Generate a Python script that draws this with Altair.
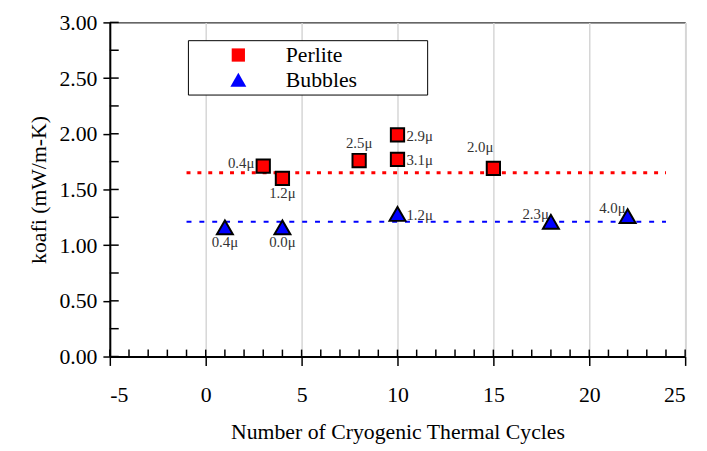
import altair as alt
import pandas as pd

# ---- data ----
series_names = ["Perlite", "Bubbles"]
perlite_cycles = [3, 4, 8, 10, 10, 15]
perlite_k = [1.71, 1.60, 1.76, 1.99, 1.77, 1.69]
perlite_labels = ["0.4μ", "1.2μ", "2.5μ", "2.9μ", "3.1μ", "2.0μ"]
bubbles_cycles = [1, 4, 10, 18, 22]
bubbles_k = [1.16, 1.16, 1.28, 1.21, 1.26]
bubbles_labels = ["0.4μ", "0.0μ", "1.2μ", "2.3μ", "4.0μ"]
mean_k = [1.65, 1.21]
mean_start = [-1, -1]
mean_end = [24, 24]
x_ticks = [-5, 0, 5, 10, 15, 20, 25]
y_ticks = [0, 0.5, 1.0, 1.5, 2.0, 2.5, 3.0]
x_minor = list(range(-5, 26))
y_minor = [i * 0.25 for i in range(13)]

# which side of its marker each note sits on
perlite_place = ["left", "below", "above", "right", "right", "aboveleft"]
bubbles_place = ["below", "below", "right", "upleft", "upleft"]

points = pd.DataFrame({
    "series": ["Perlite"] * len(perlite_cycles) + ["Bubbles"] * len(bubbles_cycles),
    "cycles": perlite_cycles + bubbles_cycles,
    "k": perlite_k + bubbles_k,
    "label": perlite_labels + bubbles_labels,
    "place": perlite_place + bubbles_place,
})
means = pd.DataFrame({"series": series_names, "k": mean_k, "cycles": mean_start, "cycles_end": mean_end})
xt = pd.DataFrame({"cycles": x_minor})
yt = pd.DataFrame({"k": y_minor})

FONT = "Liberation Serif"
xscale = alt.Scale(domain=[-5, 25], nice=False, zero=False)
yscale = alt.Scale(domain=[0, 3], nice=False, zero=False)

x_axis = alt.Axis(values=x_ticks, labelExpr="'' + datum.value", tickSize=9, tickWidth=1.5,
                  tickColor="black", domainColor="black", domainWidth=2, labelFontSize=22,
                  labelColor="black", labelFont=FONT, labelPadding=19, titleFont=FONT,
                  titleFontSize=22, titleFontWeight="normal", titleColor="black", titlePadding=17,
                  grid=True, gridColor="#d6d6d6", gridWidth=1.5)
y_axis = alt.Axis(values=y_ticks, format=".2f", tickSize=7, tickWidth=1.5, tickColor="black",
                  domainColor="black", domainWidth=2, labelFontSize=22, labelColor="black",
                  labelFont=FONT, labelPadding=6, titleFont=FONT, titleFontSize=22,
                  titleFontWeight="normal", titleColor="black", titlePadding=9, grid=False)

X = alt.X("cycles:Q", scale=xscale, axis=x_axis, title="Number of Cryogenic Thermal Cycles")
Y = alt.Y("k:Q", scale=yscale, axis=y_axis, title="koafi (mW/m-K)")

# inward tick marks (minor + major)
x_inner = alt.Chart(xt).mark_rule(color="black", strokeWidth=1.5).encode(
    x=X, y=alt.value(338), y2=alt.value(331))
y_inner = alt.Chart(yt).mark_rule(color="black", strokeWidth=1.5).encode(
    y=Y, x=alt.value(0), x2=alt.value(9))

# mean lines
red_line = alt.Chart(means).transform_filter(alt.datum.series == "Perlite").mark_rule(
    color="#ff0000", strokeWidth=3, strokeDash=[4, 7]).encode(x=X, x2="cycles_end:Q", y=Y)
blue_line = alt.Chart(means).transform_filter(alt.datum.series == "Bubbles").mark_rule(
    color="#0000ff", strokeWidth=2, strokeDash=[5, 8]).encode(x=X, x2="cycles_end:Q", y=Y)

# point notes
placements = {
    "left": dict(align="right", dx=-9, dy=-3),
    "right": dict(align="left", dx=9, dy=1),
    "above": dict(align="center", dx=0, dy=-18),
    "below": dict(align="center", dx=0, dy=15),
    "upleft": dict(align="right", dx=-2, dy=-8),
    "aboveleft": dict(align="right", dx=0, dy=-21),
}
text_layers = []
for name, opts in placements.items():
    text_layers.append(
        alt.Chart(points).transform_filter(alt.datum.place == name).mark_text(
            font=FONT, fontSize=15, color="#333333", baseline="middle", **opts).encode(
            x=X, y=Y, text="label:N"))

pad = "\u00a0" * 12 + "\u200b"
legend = alt.Legend(title=None, orient="none", legendX=79, legendY=18,
                    labelFont=FONT, labelFontSize=22, labelColor="black",
                    labelExpr="datum.label + '" + pad + "'", labelLimit=400,
                    strokeColor="black", fillColor="white", padding=4,
                    symbolOffset=36, labelOffset=37,
                    symbolStrokeColor="black", symbolStrokeWidth=2, rowPadding=3)

pts = alt.Chart(points).mark_point(filled=True, opacity=1, stroke="black", strokeWidth=2).encode(
    x=X, y=Y,
    fill=alt.Fill("series:N", scale=alt.Scale(domain=series_names, range=["#ff0000", "#0000ff"]), legend=legend),
    shape=alt.Shape("series:N", scale=alt.Scale(domain=series_names, range=["square", "triangle-up"]), legend=legend),
    size=alt.Size("series:N", scale=alt.Scale(domain=series_names, range=[180, 260]), legend=legend),
)

chart = alt.layer(x_inner, y_inner, red_line, blue_line, *text_layers, pts).properties(
    width=582, height=338,
    padding={"left": 103, "top": 12, "right": 14, "bottom": 93},
    autosize=alt.AutoSizeParams(type="none"),
).configure(font=FONT).configure_view(stroke="black", strokeWidth=1)

chart.save("out.html", embed_options={"renderer": "svg", "actions": False})
